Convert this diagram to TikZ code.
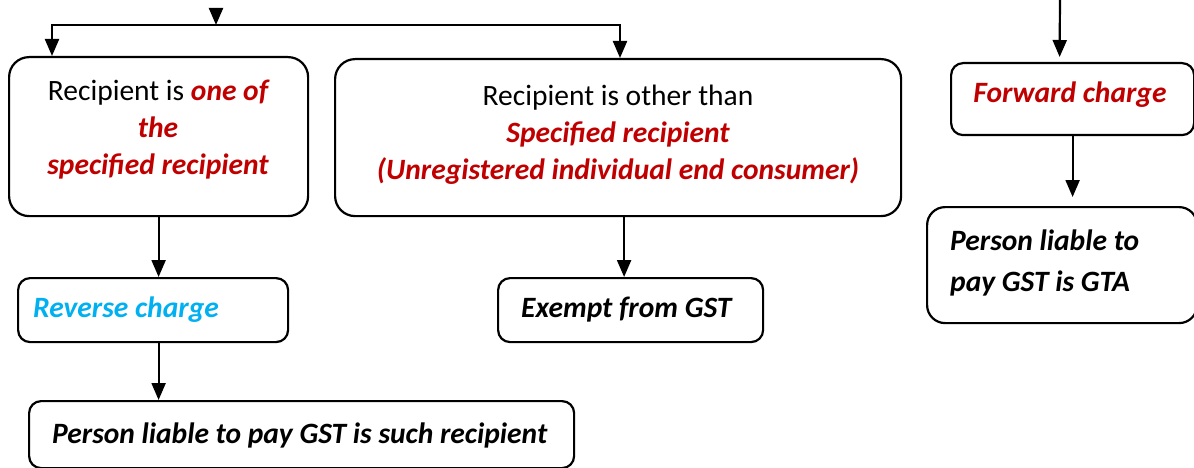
\documentclass[tikz,border=0pt]{standalone}
\usepackage{fontspec}
\setmainfont{Carlito}
\usetikzlibrary{arrows.meta}
\definecolor{darkred}{HTML}{C00000}
\definecolor{skyblue}{HTML}{00B0F0}
\newcommand\hl[1]{\textcolor{darkred}{\bfseries\itshape #1}}
\newcommand\emb[1]{{\bfseries\itshape #1}}
\begin{document}
\begin{tikzpicture}[x=1pt,y=-1pt,
  card/.style={draw=black, line width=2.2pt, rounded corners=#1, inner sep=0pt,
    anchor=north west},
  card/.default=20pt,
  lbl/.style={font=\fontsize{29.5}{37}\selectfont, inner sep=0pt, align=center},
  flow/.style={line width=2.2pt, -{Triangle[width=14pt,length=17pt]}}]
\useasboundingbox (0,0) rectangle (1194,468);

% boxes
\node[card, minimum width=299pt, minimum height=159pt] (A) at (8,56) {};
\node[card, minimum width=566pt, minimum height=157pt] (B) at (334,58) {};
\node[card=12pt, minimum width=270pt, minimum height=64pt] (rev) at (17,277) {};
\node[card=12pt, minimum width=265pt, minimum height=64pt] (ex) at (497,277) {};
\node[card=12pt, minimum width=545pt, minimum height=67pt] (such) at (28,400) {};
\node[card=12pt, minimum width=243pt, minimum height=72pt] (fwd) at (950,62) {};
\node[card=18pt, minimum width=270pt, minimum height=116pt] (gta) at (926,206) {};

% texts
\node[lbl] (tA) at (158,130) {Recipient is \hl{one of}\\\hl{the}\\\hl{specified recipient}};
\node[lbl] (tB) at (618,135) {Recipient is other than\\\hl{Specified recipient}\\\hl{(Unregistered individual end consumer)}};
\node[lbl, anchor=west] (trev) at (33,310) {\textcolor{skyblue}{\bfseries\itshape Reverse charge}};
\node[lbl, anchor=west] (tex) at (521,310) {\emb{Exempt from GST}};
\node[lbl, anchor=west] (tsuch) at (52,435) {\emb{Person liable to pay GST is such recipient}};
\node[lbl] (tfwd) at (1070,95) {\hl{Forward charge}};
\node[lbl, anchor=west, align=left, font=\fontsize{29.5}{41}\selectfont] (tgta) at (950,263)
  {\emb{Person liable to}\\\emb{pay GST is GTA}};

% connectors
\coordinate (src) at (216,8);
\coordinate (jc) at (216,25);
\coordinate (jl) at (52,25);
\coordinate (jr) at (620,25);
\draw[flow] (src) -- (jc);
\draw[line width=2.2pt, line cap=rect] (jl) -- (jr);
\draw[flow] (jl) -- (jl |- A.north);
\draw[flow] (jr) -- (jr |- B.north);
\draw[flow] (A.south) -- (A.south |- rev.north);
\draw[flow] (A.south |- rev.south) -- (A.south |- such.north);
\draw[flow] ([xshift=6pt]B.south) -- ([xshift=6pt]B.south |- ex.north);
\coordinate (fin) at (1060,-4);
\draw[flow, shorten >=5pt] (fin) -- ([xshift=-13pt]fwd.north);
\draw[flow, shorten >=9pt] (fwd.south) -- (fwd.south |- gta.north);
\end{tikzpicture}
\end{document}
